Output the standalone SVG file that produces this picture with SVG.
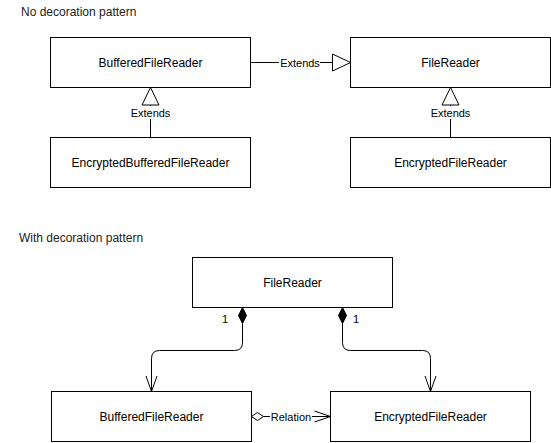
<svg xmlns="http://www.w3.org/2000/svg" width="551" height="443" viewBox="0 0 551 443">
<style>
.box{fill:#fff;stroke:#000;stroke-width:1}
.lbl{font-family:"Liberation Sans",Arial,sans-serif;font-size:11px;fill:#000;text-anchor:middle}
.name{font-family:"Liberation Sans",Arial,sans-serif;font-size:12px;fill:#000;text-anchor:middle}
.title{font-family:"Liberation Sans",Arial,sans-serif;font-size:12px;fill:#222}
.edge{fill:none;stroke:#000;stroke-width:1}
.hollow{fill:#fff;stroke:#000;stroke-width:1}
.solid{fill:#000;stroke:#000;stroke-width:1}
.bg{fill:#fff}
</style>
<rect width="551" height="443" fill="#fff"/>
<text class="title" x="21" y="16">No decoration pattern</text>
<text class="title" x="19" y="242">With decoration pattern</text>

<g id="connectors">
  <line class="edge" x1="250.5" y1="62.5" x2="332.5" y2="62.5"/>
  <polygon class="hollow" points="350.5,62.5 332.5,54 332.5,71"/>
  <rect class="bg" x="279" y="56" width="41" height="13"/>
  <text class="lbl" x="300" y="66.5">Extends</text>
  <line class="edge" x1="150.5" y1="137.5" x2="150.5" y2="105"/>
  <polygon class="hollow" points="150.5,87.5 142,105 159,105"/>
  <rect class="bg" x="129" y="106" width="42" height="13"/>
  <text class="lbl" x="150.5" y="117">Extends</text>
  <line class="edge" x1="450.5" y1="137.5" x2="450.5" y2="105"/>
  <polygon class="hollow" points="450.5,87.5 442,105 459,105"/>
  <rect class="bg" x="429" y="106" width="42" height="13"/>
  <text class="lbl" x="450.5" y="117">Extends</text>
  <polygon class="solid" points="242.5,307.5 246.5,315.5 242.5,323.5 238.5,315.5"/>
  <path class="edge" d="M242.5 323.5 V342.5 Q242.5 350.5 234.5 350.5 H159.5 Q151.5 350.5 151.5 358.5 V391.5"/>
  <polyline class="edge" points="146,376 151.5,391.5 157,376"/>
  <text class="lbl" x="225" y="323">1</text>
  <polygon class="solid" points="342.5,307.5 346.5,315.5 342.5,323.5 338.5,315.5"/>
  <path class="edge" d="M342.5 323.5 V342.5 Q342.5 350.5 350.5 350.5 H422.5 Q430.5 350.5 430.5 358.5 V391.5"/>
  <polyline class="edge" points="425,376 430.5,391.5 436,376"/>
  <text class="lbl" x="356" y="323">1</text>
  <line class="edge" x1="263.5" y1="416.5" x2="330.5" y2="416.5"/>
  <polygon class="hollow" points="251.5,416.5 257.5,412.5 263.5,416.5 257.5,420.5"/>
  <polyline class="edge" points="314.5,411 330.5,416.5 314.5,422"/>
  <rect class="bg" x="270" y="410" width="42" height="13"/>
  <text class="lbl" x="291" y="420.5">Relation</text>
</g>

<g id="node-buffered-top">
  <rect class="box" x="50.5" y="37.5" width="200" height="50"/>
  <text class="name" x="150.5" y="66.5">BufferedFileReader</text>
</g>
<g id="node-filereader-top">
  <rect class="box" x="350.5" y="37.5" width="200" height="50"/>
  <text class="name" x="450.5" y="66.5">FileReader</text>
</g>
<g id="node-encbuffered">
  <rect class="box" x="50.5" y="137.5" width="200" height="50"/>
  <text class="name" x="150.5" y="166.5">EncryptedBufferedFileReader</text>
</g>
<g id="node-encfile-top">
  <rect class="box" x="350.5" y="137.5" width="200" height="50"/>
  <text class="name" x="450.5" y="166.5">EncryptedFileReader</text>
</g>
<g id="node-filereader-bottom">
  <rect class="box" x="192.5" y="257.5" width="200" height="50"/>
  <text class="name" x="292.5" y="286.5">FileReader</text>
</g>
<g id="node-buffered-bottom">
  <rect class="box" x="51.5" y="391.5" width="200" height="50"/>
  <text class="name" x="151.5" y="420.5">BufferedFileReader</text>
</g>
<g id="node-encfile-bottom">
  <rect class="box" x="330.5" y="391.5" width="200" height="50"/>
  <text class="name" x="430.5" y="420.5">EncryptedFileReader</text>
</g>
</svg>
